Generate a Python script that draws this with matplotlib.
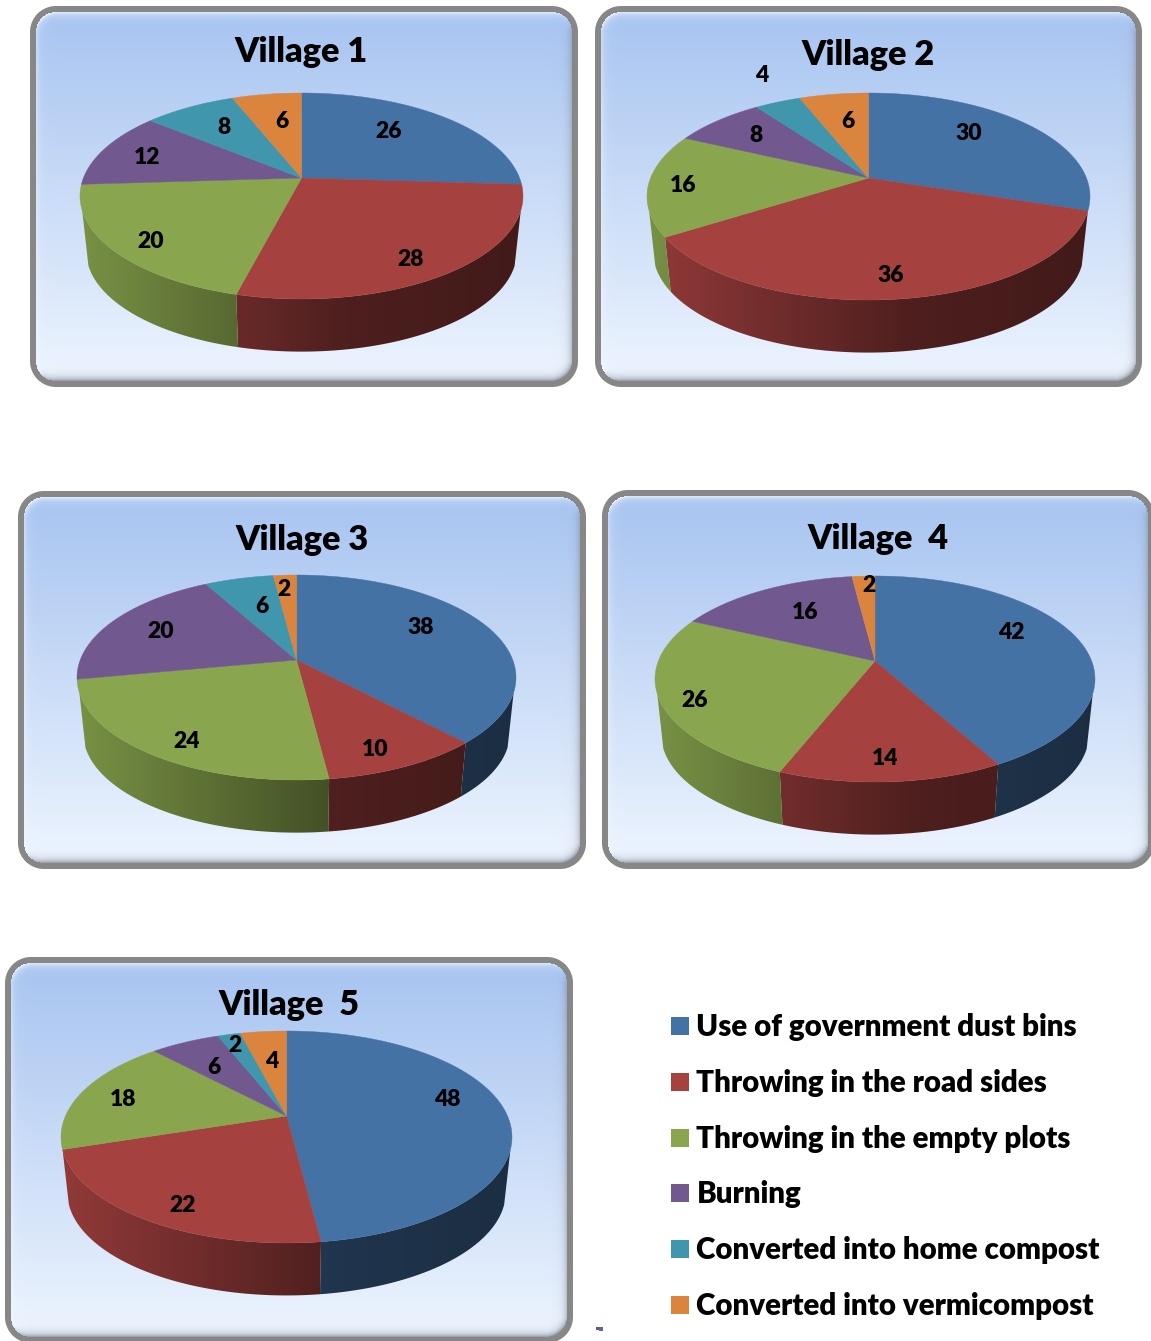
import numpy as np
import matplotlib
matplotlib.use('Agg')
from matplotlib import pyplot as plt
from matplotlib.patches import Polygon, Rectangle

plt.rcParams['font.family'] = ['Lato', 'DejaVu Sans']

# data
categories = ['Use of government dust bins', 'Throwing in the road sides',
              'Throwing in the empty plots', 'Burning',
              'Converted into home compost', 'Converted into vermicompost']
colors = ['#4472a5', '#a54240', '#89a54e', '#71588f', '#4096ac', '#db843d']
titles = ['Village 1', 'Village 2', 'Village 3', 'Village  4', 'Village  5']
village1 = [26, 28, 20, 12, 8, 6]
village2 = [30, 36, 16, 8, 4, 6]
village3 = [38, 10, 24, 20, 6, 2]
village4 = [42, 14, 26, 16, 0, 2]
village5 = [48, 22, 18, 6, 2, 4]
villages = [village1, village2, village3, village4, village5]

# layout, in pixels of the picture
frames = [(30, 6, 578, 387), (595, 6, 1142, 387), (18, 491, 586, 869),
          (602, 490, 1153, 869), (5, 957, 573, 1343)]
# apex x, apex y, top y, bottom y, half width
pies = [(301.5, 178, 93, 299, 221.5), (868.5, 178, 93, 300, 221.5),
        (296.5, 660, 575, 780, 219.5), (875, 661, 576, 782, 220),
        (286.5, 1116, 1031, 1243, 225.5)]
title_xy = [(301, 52), (868, 55), (302, 540), (878, 539), (289, 1005)]
label_xy = [
    [(389, 131), (411, 259), (151, 241), (147, 157), (224, 127), (282, 121)],
    [(969, 133), (891, 275), (683, 185), (756, 135), (762, 75), (848, 121)],
    [(421, 627), (375, 749), (187, 741), (161, 631), (262, 606), (284, 589)],
    [(1011, 632), (885, 758), (695, 700), (805, 612), None, (869, 585)],
    [(447, 1100), (183, 1206), (123, 1100), (214, 1067), (235, 1045), (272, 1062)],
]
legend_y = [1026, 1082, 1138, 1193, 1249, 1305]
depth = 56
inset = 0.972
wall_from, wall_to = 108, 252

fig = plt.figure(figsize=(11.51, 13.41), dpi=100)
ax = fig.add_axes([0, 0, 1, 1])


def draw_frame(x0, y0, x1, y1):
    r = 26
    xs = np.arange(x0, x1 + 1) + 0.5
    ys = np.arange(y0, y1 + 1) + 0.5
    xx, yy = np.meshgrid(xs, ys)
    qx = np.abs(xx - (x0 + x1) / 2) - (x1 - x0) / 2 + r
    qy = np.abs(yy - (y0 + y1) / 2) - (y1 - y0) / 2 + r
    sd = np.hypot(np.maximum(qx, 0), np.maximum(qy, 0)) + np.minimum(np.maximum(qx, qy), 0) - r
    ny, nx = np.gradient(sd)

    f = ((yy - y0) / (y1 - y0))[..., None]
    top = np.array([166, 195, 240.0])
    bottom = np.array([235, 243, 254.0])
    rgb = top + (bottom - top) * np.clip(f * 1.05, 0, 1)

    # soft bevel just inside the grey border
    d = np.clip(-sd - 6, 0, None)
    glow = np.exp(-d / 3.5)[..., None]
    light = (-nx * 0.5 - ny * 0.85)[..., None]
    rgb = rgb + np.clip(light, 0, 1) * glow * (np.array([245, 250, 255.0]) - rgb) * 0.9
    rgb = rgb + np.clip(-light, 0, 1) * glow * (np.array([125, 130, 140.0]) - rgb) * 0.95

    border = (sd > -6)[..., None]
    rgb = np.where(border, np.array([135, 135, 135.0]), rgb)
    alpha = np.clip(0.5 - sd, 0, 1)[..., None]
    img = np.concatenate([rgb / 255.0, alpha], axis=2)
    ax.imshow(img, extent=(x0, x1 + 1, y1 + 1, y0), aspect='auto',
              interpolation='nearest', zorder=1)


def side_shade(f):
    return np.interp(f, [0, 0.35, 0.6, 1], [0.88, 0.64, 0.47, 0.40])


def draw_pie(values, pie):
    cx, cy, top, bot, half = pie
    a = cy - top
    b = bot - cy
    k = (b - a) / (a + b)
    A = a * (1 + k)
    R = half * np.sqrt(1 - k * k)

    def ring(t):
        den = 1 + k * np.cos(t)
        return R * np.sin(t) / den, -A * np.cos(t) / den

    edges = np.radians(np.concatenate([[0], np.cumsum(values)]) * 3.6)

    # side wall first, a left to right gradient clipped to each segment
    fr = np.linspace(0, 1, 220)
    for i, c in enumerate(colors):
        t0 = max(edges[i], np.radians(wall_from))
        t1 = min(edges[i + 1], np.radians(wall_to))
        if t1 <= t0:
            continue
        t = np.linspace(t0, t1, 100)
        dx, dy = ring(t)
        pts = np.column_stack([np.r_[cx + dx, cx + dx[::-1] * inset],
                               np.r_[cy + dy, cy + dy[::-1] * inset + depth]])
        shape = Polygon(pts, closed=True, facecolor='none', edgecolor='none')
        ax.add_patch(shape)
        base = np.array(matplotlib.colors.to_rgb(c))
        grad = (base[None, None, :] * side_shade(fr)[None, :, None]).clip(0, 1)
        im = ax.imshow(grad, extent=(cx - half, cx + half, cy + b + depth + 5, cy - 5),
                       aspect='auto', interpolation='bilinear', zorder=2)
        im.set_clip_path(shape)

    # top face
    for i, c in enumerate(colors):
        if values[i] == 0:
            continue
        t = np.linspace(edges[i], edges[i + 1], 120)
        dx, dy = ring(t)
        pts = np.column_stack([np.r_[cx, cx + dx], np.r_[cy, cy + dy]])
        ax.add_patch(Polygon(pts, closed=True, facecolor=c, edgecolor=c, lw=0.3, zorder=3))


for n, values in enumerate(villages):
    draw_frame(*frames[n])
    draw_pie(values, pies[n])
    ax.text(*title_xy[n], titles[n], fontsize=24.7, fontweight='heavy', color='black',
            ha='center', va='center', zorder=5)
    for v, xy in zip(values, label_xy[n]):
        if xy is not None:
            ax.text(*xy, str(v), fontsize=16.5, fontweight='heavy', color='black',
                    ha='center', va='center', zorder=5)

# legend
for name, c, y in zip(categories, colors, legend_y):
    ax.add_patch(Rectangle((671, y - 9), 18, 18, facecolor=c, edgecolor='none', zorder=5))
    ax.text(696.5, y + 1, name, fontsize=21.25, fontweight='heavy', color='black',
            ha='left', va='center', zorder=5)

# small speck below the legend
ax.add_patch(Rectangle((596, 1327), 3, 3, facecolor=colors[1], edgecolor='none', zorder=5))
ax.add_patch(Rectangle((599, 1327), 4, 4, facecolor=colors[0], edgecolor='none', zorder=5))

ax.set_xlim(0, 1151)
ax.set_ylim(1341, 0)
ax.axis('off')
fig.savefig('out.png', dpi=100)
